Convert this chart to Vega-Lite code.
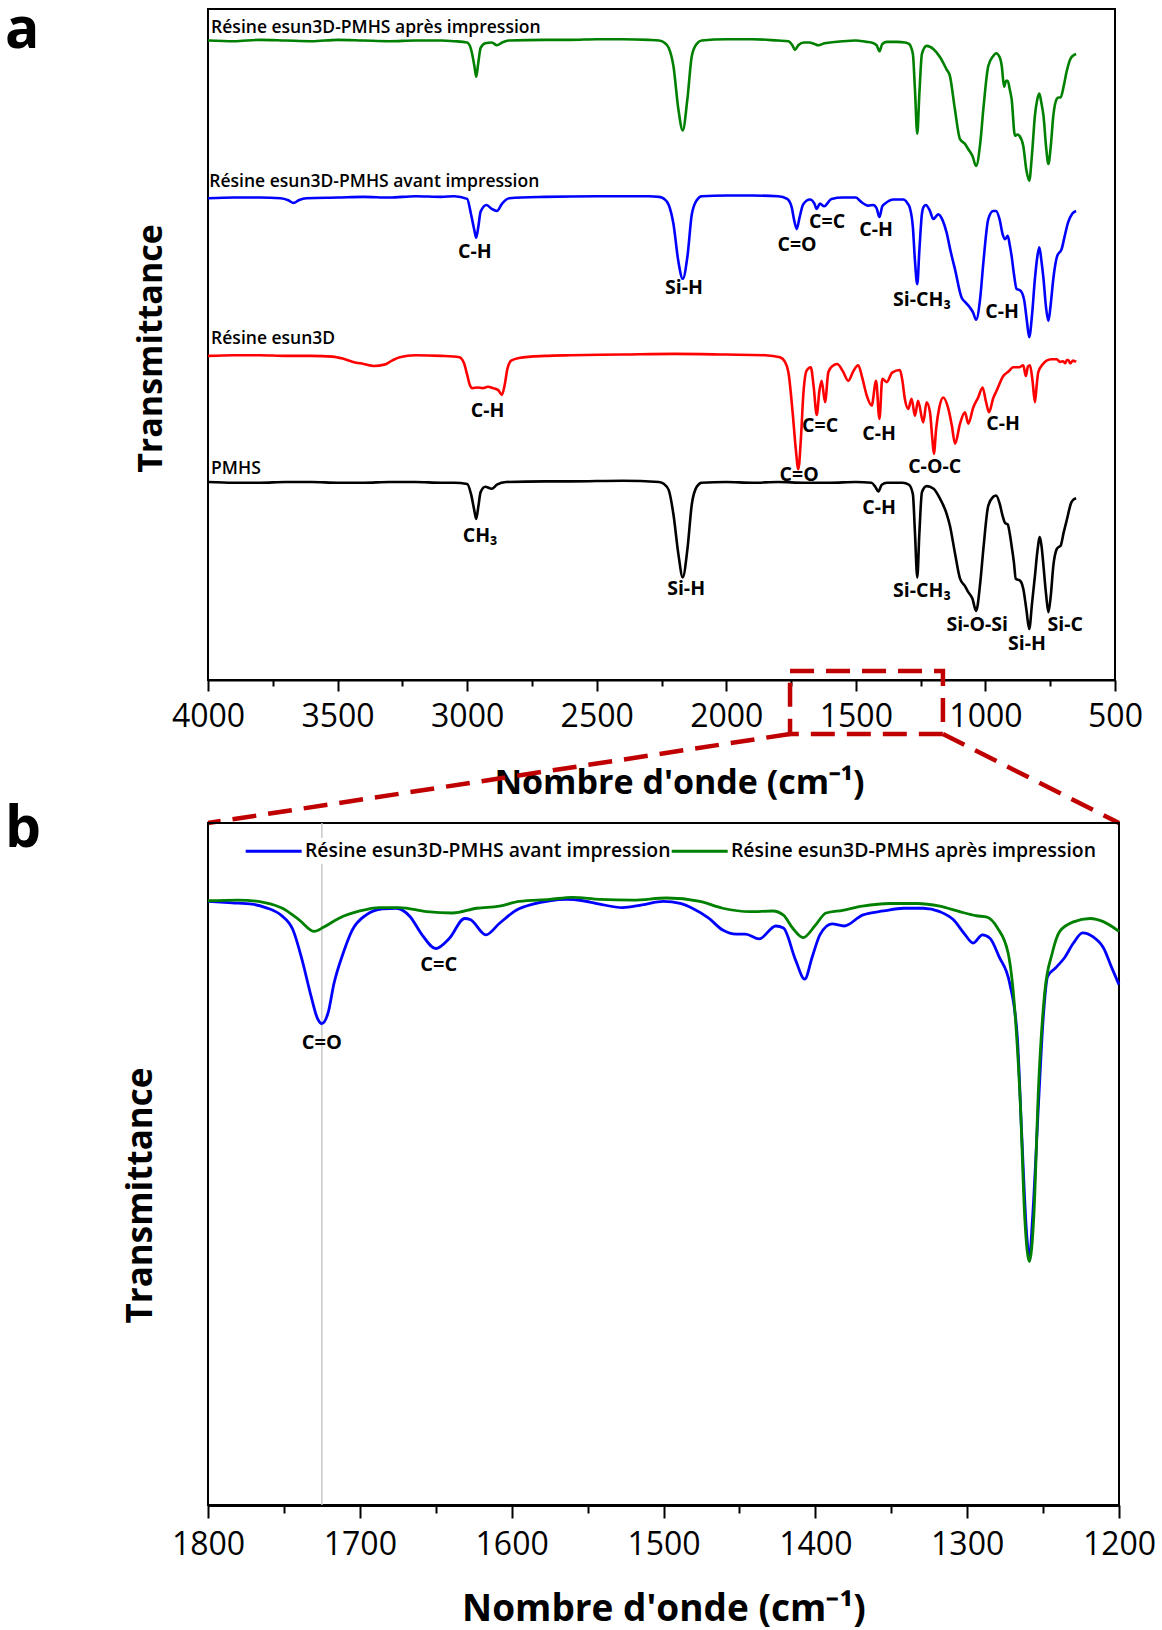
{
"$schema": "https://vega.github.io/schema/vega-lite/v6.json",
"background": "white",
"padding": {"left": 3, "top": 0, "right": 0, "bottom": 0},
"bounds": "flush",
"spacing": 143,
"config": {"view": {"stroke": "black", "strokeWidth": 2}, "font": "Open Sans"},
"resolve": {"scale": {"x": "independent", "y": "independent", "color": "independent"}, "axis": {"x": "independent", "y": "independent"}, "legend": {"color": "independent"}},
"datasets": {
"a_spec": [
{"serie":"apres","wn":4000,"t":95.3},{"serie":"apres","wn":3900,"t":95.2},{"serie":"apres","wn":3800,"t":95.4},{"serie":"apres","wn":3700,"t":95.3},{"serie":"apres","wn":3600,"t":95.2},{"serie":"apres","wn":3500,"t":95.4},{"serie":"apres","wn":3400,"t":95.3},{"serie":"apres","wn":3300,"t":95.2},{"serie":"apres","wn":3200,"t":95.3},{"serie":"apres","wn":3100,"t":95.3},{"serie":"apres","wn":3050,"t":95.2},{"serie":"apres","wn":3000,"t":95.0},{"serie":"apres","wn":2985,"t":94.0},{"serie":"apres","wn":2972,"t":91.5},{"serie":"apres","wn":2965,"t":89.9},{"serie":"apres","wn":2957,"t":92.0},{"serie":"apres","wn":2948,"t":94.2},{"serie":"apres","wn":2930,"t":94.9},{"serie":"apres","wn":2905,"t":95.0},{"serie":"apres","wn":2885,"t":94.6},{"serie":"apres","wn":2865,"t":95.0},{"serie":"apres","wn":2840,"t":95.3},{"serie":"apres","wn":2700,"t":95.4},{"serie":"apres","wn":2600,"t":95.4},{"serie":"apres","wn":2500,"t":95.5},{"serie":"apres","wn":2400,"t":95.5},{"serie":"apres","wn":2300,"t":95.4},{"serie":"apres","wn":2260,"t":95.3},{"serie":"apres","wn":2240,"t":95.0},{"serie":"apres","wn":2222,"t":94.2},{"serie":"apres","wn":2204,"t":91.5},{"serie":"apres","wn":2185,"t":85.1},{"serie":"apres","wn":2168,"t":81.9},{"serie":"apres","wn":2150,"t":86.6},{"serie":"apres","wn":2133,"t":93.0},{"serie":"apres","wn":2114,"t":94.8},{"serie":"apres","wn":2095,"t":95.3},{"serie":"apres","wn":2000,"t":95.5},{"serie":"apres","wn":1900,"t":95.5},{"serie":"apres","wn":1800,"t":95.3},{"serie":"apres","wn":1760,"t":95.2},{"serie":"apres","wn":1745,"t":94.6},{"serie":"apres","wn":1735,"t":93.9},{"serie":"apres","wn":1722,"t":94.6},{"serie":"apres","wn":1700,"t":95.0},{"serie":"apres","wn":1680,"t":95.0},{"serie":"apres","wn":1660,"t":94.8},{"serie":"apres","wn":1645,"t":94.6},{"serie":"apres","wn":1620,"t":94.9},{"serie":"apres","wn":1600,"t":95.0},{"serie":"apres","wn":1550,"t":95.2},{"serie":"apres","wn":1500,"t":95.3},{"serie":"apres","wn":1460,"t":95.1},{"serie":"apres","wn":1440,"t":95.0},{"serie":"apres","wn":1420,"t":94.6},{"serie":"apres","wn":1409,"t":93.7},{"serie":"apres","wn":1398,"t":94.8},{"serie":"apres","wn":1380,"t":95.1},{"serie":"apres","wn":1340,"t":95.1},{"serie":"apres","wn":1310,"t":95.0},{"serie":"apres","wn":1295,"t":94.8},{"serie":"apres","wn":1280,"t":93.3},{"serie":"apres","wn":1272,"t":88.0},{"serie":"apres","wn":1263,"t":81.4},{"serie":"apres","wn":1255,"t":87.3},{"serie":"apres","wn":1245,"t":93.3},{"serie":"apres","wn":1227,"t":94.5},{"serie":"apres","wn":1200,"t":94.0},{"serie":"apres","wn":1175,"t":92.8},{"serie":"apres","wn":1150,"t":91.0},{"serie":"apres","wn":1137,"t":90.0},{"serie":"apres","wn":1118,"t":85.1},{"serie":"apres","wn":1098,"t":80.6},{"serie":"apres","wn":1079,"t":79.9},{"serie":"apres","wn":1066,"t":79.1},{"serie":"apres","wn":1050,"t":78.1},{"serie":"apres","wn":1036,"t":76.6},{"serie":"apres","wn":1020,"t":80.0},{"serie":"apres","wn":1008,"t":85.1},{"serie":"apres","wn":989,"t":91.5},{"serie":"apres","wn":970,"t":93.0},{"serie":"apres","wn":959,"t":93.4},{"serie":"apres","wn":945,"t":92.8},{"serie":"apres","wn":937,"t":91.5},{"serie":"apres","wn":928,"t":88.4},{"serie":"apres","wn":920,"t":89.3},{"serie":"apres","wn":914,"t":89.3},{"serie":"apres","wn":906,"t":88.0},{"serie":"apres","wn":899,"t":86.6},{"serie":"apres","wn":886,"t":81.1},{"serie":"apres","wn":876,"t":81.3},{"serie":"apres","wn":869,"t":81.1},{"serie":"apres","wn":854,"t":79.6},{"serie":"apres","wn":842,"t":76.0},{"serie":"apres","wn":831,"t":74.4},{"serie":"apres","wn":820,"t":78.5},{"serie":"apres","wn":809,"t":84.1},{"serie":"apres","wn":800,"t":86.5},{"serie":"apres","wn":792,"t":87.4},{"serie":"apres","wn":784,"t":86.0},{"serie":"apres","wn":776,"t":84.1},{"serie":"apres","wn":766,"t":79.5},{"serie":"apres","wn":757,"t":76.9},{"serie":"apres","wn":748,"t":79.5},{"serie":"apres","wn":738,"t":84.1},{"serie":"apres","wn":725,"t":86.6},{"serie":"apres","wn":718,"t":86.8},{"serie":"apres","wn":710,"t":86.8},{"serie":"apres","wn":698,"t":88.5},{"serie":"apres","wn":687,"t":90.6},{"serie":"apres","wn":670,"t":92.7},{"serie":"apres","wn":660,"t":93.1},{"serie":"apres","wn":650,"t":93.3},
{"serie":"avant","wn":4000,"t":71.8},{"serie":"avant","wn":3900,"t":71.9},{"serie":"avant","wn":3800,"t":71.9},{"serie":"avant","wn":3720,"t":71.8},{"serie":"avant","wn":3690,"t":71.5},{"serie":"avant","wn":3670,"t":71.1},{"serie":"avant","wn":3650,"t":71.5},{"serie":"avant","wn":3620,"t":71.8},{"serie":"avant","wn":3500,"t":71.9},{"serie":"avant","wn":3400,"t":72.0},{"serie":"avant","wn":3300,"t":71.9},{"serie":"avant","wn":3200,"t":72.1},{"serie":"avant","wn":3100,"t":72.0},{"serie":"avant","wn":3050,"t":72.1},{"serie":"avant","wn":3000,"t":71.7},{"serie":"avant","wn":2985,"t":69.4},{"serie":"avant","wn":2972,"t":67.0},{"serie":"avant","wn":2965,"t":65.9},{"serie":"avant","wn":2957,"t":67.5},{"serie":"avant","wn":2948,"t":69.8},{"serie":"avant","wn":2925,"t":70.8},{"serie":"avant","wn":2905,"t":70.2},{"serie":"avant","wn":2885,"t":69.9},{"serie":"avant","wn":2865,"t":71.0},{"serie":"avant","wn":2837,"t":71.8},{"serie":"avant","wn":2700,"t":72.0},{"serie":"avant","wn":2500,"t":72.1},{"serie":"avant","wn":2300,"t":72.1},{"serie":"avant","wn":2260,"t":72.0},{"serie":"avant","wn":2240,"t":71.7},{"serie":"avant","wn":2222,"t":70.8},{"serie":"avant","wn":2204,"t":68.0},{"serie":"avant","wn":2185,"t":62.4},{"serie":"avant","wn":2168,"t":59.8},{"serie":"avant","wn":2150,"t":63.1},{"serie":"avant","wn":2133,"t":69.4},{"serie":"avant","wn":2114,"t":71.5},{"serie":"avant","wn":2095,"t":72.1},{"serie":"avant","wn":2000,"t":72.2},{"serie":"avant","wn":1900,"t":72.2},{"serie":"avant","wn":1800,"t":72.1},{"serie":"avant","wn":1765,"t":71.7},{"serie":"avant","wn":1748,"t":70.5},{"serie":"avant","wn":1738,"t":68.5},{"serie":"avant","wn":1728,"t":67.2},{"serie":"avant","wn":1718,"t":68.8},{"serie":"avant","wn":1703,"t":70.9},{"serie":"avant","wn":1677,"t":71.6},{"serie":"avant","wn":1660,"t":71.0},{"serie":"avant","wn":1651,"t":70.2},{"serie":"avant","wn":1639,"t":71.0},{"serie":"avant","wn":1622,"t":70.6},{"serie":"avant","wn":1594,"t":71.7},{"serie":"avant","wn":1550,"t":71.9},{"serie":"avant","wn":1500,"t":71.9},{"serie":"avant","wn":1484,"t":71.4},{"serie":"avant","wn":1452,"t":70.7},{"serie":"avant","wn":1433,"t":70.8},{"serie":"avant","wn":1420,"t":70.3},{"serie":"avant","wn":1409,"t":69.0},{"serie":"avant","wn":1398,"t":70.6},{"serie":"avant","wn":1387,"t":71.0},{"serie":"avant","wn":1355,"t":71.6},{"serie":"avant","wn":1317,"t":71.6},{"serie":"avant","wn":1300,"t":71.0},{"serie":"avant","wn":1292,"t":70.4},{"serie":"avant","wn":1280,"t":67.5},{"serie":"avant","wn":1272,"t":62.5},{"serie":"avant","wn":1263,"t":59.0},{"serie":"avant","wn":1255,"t":64.0},{"serie":"avant","wn":1245,"t":69.5},{"serie":"avant","wn":1240,"t":70.4},{"serie":"avant","wn":1230,"t":70.8},{"serie":"avant","wn":1215,"t":70.0},{"serie":"avant","wn":1201,"t":68.7},{"serie":"avant","wn":1182,"t":69.4},{"serie":"avant","wn":1165,"t":68.5},{"serie":"avant","wn":1150,"t":66.7},{"serie":"avant","wn":1135,"t":64.0},{"serie":"avant","wn":1118,"t":61.3},{"serie":"avant","wn":1092,"t":57.0},{"serie":"avant","wn":1075,"t":56.2},{"serie":"avant","wn":1060,"t":55.5},{"serie":"avant","wn":1048,"t":54.8},{"serie":"avant","wn":1036,"t":53.7},{"serie":"avant","wn":1020,"t":57.0},{"serie":"avant","wn":1008,"t":62.2},{"serie":"avant","wn":989,"t":68.7},{"serie":"avant","wn":970,"t":69.9},{"serie":"avant","wn":959,"t":69.9},{"serie":"avant","wn":945,"t":68.6},{"serie":"avant","wn":934,"t":66.5},{"serie":"avant","wn":924,"t":65.7},{"serie":"avant","wn":914,"t":66.2},{"serie":"avant","wn":906,"t":64.8},{"serie":"avant","wn":899,"t":63.2},{"serie":"avant","wn":890,"t":60.5},{"serie":"avant","wn":880,"t":58.3},{"serie":"avant","wn":864,"t":58.0},{"serie":"avant","wn":850,"t":56.5},{"serie":"avant","wn":840,"t":53.5},{"serie":"avant","wn":831,"t":51.1},{"serie":"avant","wn":820,"t":54.5},{"serie":"avant","wn":809,"t":59.8},{"serie":"avant","wn":800,"t":63.0},{"serie":"avant","wn":792,"t":64.5},{"serie":"avant","wn":784,"t":62.5},{"serie":"avant","wn":776,"t":59.8},{"serie":"avant","wn":766,"t":55.5},{"serie":"avant","wn":757,"t":53.5},{"serie":"avant","wn":748,"t":56.0},{"serie":"avant","wn":738,"t":59.8},{"serie":"avant","wn":723,"t":63.2},{"serie":"avant","wn":706,"t":64.2},{"serie":"avant","wn":695,"t":66.0},{"serie":"avant","wn":681,"t":68.2},{"serie":"avant","wn":665,"t":69.5},{"serie":"avant","wn":650,"t":69.9},
{"serie":"esun","wn":4000,"t":48.3},{"serie":"esun","wn":3900,"t":48.4},{"serie":"esun","wn":3800,"t":48.4},{"serie":"esun","wn":3700,"t":48.3},{"serie":"esun","wn":3600,"t":48.3},{"serie":"esun","wn":3520,"t":48.2},{"serie":"esun","wn":3480,"t":47.9},{"serie":"esun","wn":3440,"t":47.4},{"serie":"esun","wn":3400,"t":47.1},{"serie":"esun","wn":3360,"t":46.8},{"serie":"esun","wn":3320,"t":47.0},{"serie":"esun","wn":3290,"t":47.6},{"serie":"esun","wn":3260,"t":48.1},{"serie":"esun","wn":3200,"t":48.4},{"serie":"esun","wn":3100,"t":48.3},{"serie":"esun","wn":3030,"t":48.1},{"serie":"esun","wn":3012,"t":47.2},{"serie":"esun","wn":3000,"t":45.5},{"serie":"esun","wn":2990,"t":44.0},{"serie":"esun","wn":2980,"t":43.5},{"serie":"esun","wn":2960,"t":43.6},{"serie":"esun","wn":2940,"t":43.5},{"serie":"esun","wn":2920,"t":43.7},{"serie":"esun","wn":2900,"t":43.5},{"serie":"esun","wn":2880,"t":43.2},{"serie":"esun","wn":2866,"t":42.5},{"serie":"esun","wn":2855,"t":44.0},{"serie":"esun","wn":2845,"t":46.3},{"serie":"esun","wn":2830,"t":47.6},{"serie":"esun","wn":2800,"t":48.0},{"serie":"esun","wn":2700,"t":48.3},{"serie":"esun","wn":2600,"t":48.4},{"serie":"esun","wn":2400,"t":48.5},{"serie":"esun","wn":2200,"t":48.6},{"serie":"esun","wn":2000,"t":48.5},{"serie":"esun","wn":1850,"t":48.4},{"serie":"esun","wn":1793,"t":48.1},{"serie":"esun","wn":1775,"t":47.5},{"serie":"esun","wn":1760,"t":45.8},{"serie":"esun","wn":1744,"t":39.9},{"serie":"esun","wn":1732,"t":34.5},{"serie":"esun","wn":1722,"t":31.4},{"serie":"esun","wn":1712,"t":36.0},{"serie":"esun","wn":1703,"t":42.4},{"serie":"esun","wn":1690,"t":46.1},{"serie":"esun","wn":1674,"t":46.6},{"serie":"esun","wn":1663,"t":43.8},{"serie":"esun","wn":1651,"t":39.5},{"serie":"esun","wn":1641,"t":43.0},{"serie":"esun","wn":1632,"t":44.6},{"serie":"esun","wn":1619,"t":41.4},{"serie":"esun","wn":1606,"t":45.9},{"serie":"esun","wn":1590,"t":46.8},{"serie":"esun","wn":1572,"t":47.1},{"serie":"esun","wn":1550,"t":46.0},{"serie":"esun","wn":1529,"t":44.6},{"serie":"esun","wn":1510,"t":46.0},{"serie":"esun","wn":1491,"t":46.9},{"serie":"esun","wn":1475,"t":45.0},{"serie":"esun","wn":1458,"t":42.4},{"serie":"esun","wn":1439,"t":40.9},{"serie":"esun","wn":1422,"t":44.6},{"serie":"esun","wn":1409,"t":38.9},{"serie":"esun","wn":1398,"t":44.9},{"serie":"esun","wn":1381,"t":44.4},{"serie":"esun","wn":1360,"t":45.8},{"serie":"esun","wn":1330,"t":46.2},{"serie":"esun","wn":1320,"t":44.5},{"serie":"esun","wn":1311,"t":41.9},{"serie":"esun","wn":1298,"t":40.4},{"serie":"esun","wn":1285,"t":41.9},{"serie":"esun","wn":1272,"t":39.4},{"serie":"esun","wn":1260,"t":41.6},{"serie":"esun","wn":1240,"t":38.4},{"serie":"esun","wn":1227,"t":41.4},{"serie":"esun","wn":1214,"t":39.9},{"serie":"esun","wn":1205,"t":36.0},{"serie":"esun","wn":1199,"t":33.7},{"serie":"esun","wn":1190,"t":37.5},{"serie":"esun","wn":1178,"t":40.6},{"serie":"esun","wn":1163,"t":42.1},{"serie":"esun","wn":1143,"t":40.4},{"serie":"esun","wn":1130,"t":38.0},{"serie":"esun","wn":1117,"t":35.2},{"serie":"esun","wn":1098,"t":38.2},{"serie":"esun","wn":1079,"t":39.9},{"serie":"esun","wn":1066,"t":38.2},{"serie":"esun","wn":1047,"t":40.6},{"serie":"esun","wn":1028,"t":42.1},{"serie":"esun","wn":1011,"t":43.6},{"serie":"esun","wn":998,"t":41.5},{"serie":"esun","wn":986,"t":39.9},{"serie":"esun","wn":970,"t":42.0},{"serie":"esun","wn":957,"t":43.1},{"serie":"esun","wn":931,"t":45.3},{"serie":"esun","wn":910,"t":46.0},{"serie":"esun","wn":893,"t":46.6},{"serie":"esun","wn":870,"t":46.6},{"serie":"esun","wn":854,"t":46.9},{"serie":"esun","wn":844,"t":45.3},{"serie":"esun","wn":836,"t":46.7},{"serie":"esun","wn":828,"t":46.9},{"serie":"esun","wn":818,"t":44.5},{"serie":"esun","wn":809,"t":41.4},{"serie":"esun","wn":802,"t":44.0},{"serie":"esun","wn":796,"t":45.9},{"serie":"esun","wn":780,"t":47.0},{"serie":"esun","wn":764,"t":47.6},{"serie":"esun","wn":745,"t":47.8},{"serie":"esun","wn":725,"t":47.8},{"serie":"esun","wn":712,"t":47.4},{"serie":"esun","wn":700,"t":47.5},{"serie":"esun","wn":692,"t":47.2},{"serie":"esun","wn":686,"t":47.7},{"serie":"esun","wn":680,"t":47.7},{"serie":"esun","wn":673,"t":47.2},{"serie":"esun","wn":662,"t":47.6},{"serie":"esun","wn":650,"t":47.4},
{"serie":"pmhs","wn":4000,"t":29.5},{"serie":"pmhs","wn":3900,"t":29.4},{"serie":"pmhs","wn":3800,"t":29.4},{"serie":"pmhs","wn":3700,"t":29.5},{"serie":"pmhs","wn":3600,"t":29.5},{"serie":"pmhs","wn":3500,"t":29.4},{"serie":"pmhs","wn":3400,"t":29.4},{"serie":"pmhs","wn":3300,"t":29.5},{"serie":"pmhs","wn":3200,"t":29.5},{"serie":"pmhs","wn":3100,"t":29.4},{"serie":"pmhs","wn":3050,"t":29.4},{"serie":"pmhs","wn":3000,"t":29.2},{"serie":"pmhs","wn":2985,"t":27.7},{"serie":"pmhs","wn":2972,"t":25.2},{"serie":"pmhs","wn":2965,"t":24.0},{"serie":"pmhs","wn":2957,"t":25.8},{"serie":"pmhs","wn":2948,"t":28.0},{"serie":"pmhs","wn":2930,"t":28.8},{"serie":"pmhs","wn":2905,"t":28.5},{"serie":"pmhs","wn":2885,"t":29.1},{"serie":"pmhs","wn":2850,"t":29.5},{"serie":"pmhs","wn":2700,"t":29.6},{"serie":"pmhs","wn":2600,"t":29.6},{"serie":"pmhs","wn":2400,"t":29.7},{"serie":"pmhs","wn":2260,"t":29.5},{"serie":"pmhs","wn":2240,"t":29.2},{"serie":"pmhs","wn":2222,"t":28.3},{"serie":"pmhs","wn":2204,"t":24.7},{"serie":"pmhs","wn":2185,"t":18.8},{"serie":"pmhs","wn":2168,"t":15.3},{"serie":"pmhs","wn":2150,"t":19.5},{"serie":"pmhs","wn":2133,"t":26.2},{"serie":"pmhs","wn":2114,"t":28.8},{"serie":"pmhs","wn":2095,"t":29.4},{"serie":"pmhs","wn":2000,"t":29.5},{"serie":"pmhs","wn":1900,"t":29.4},{"serie":"pmhs","wn":1800,"t":29.5},{"serie":"pmhs","wn":1700,"t":29.4},{"serie":"pmhs","wn":1600,"t":29.4},{"serie":"pmhs","wn":1500,"t":29.5},{"serie":"pmhs","wn":1440,"t":29.4},{"serie":"pmhs","wn":1425,"t":28.8},{"serie":"pmhs","wn":1413,"t":28.1},{"serie":"pmhs","wn":1400,"t":29.1},{"serie":"pmhs","wn":1380,"t":29.4},{"serie":"pmhs","wn":1320,"t":29.4},{"serie":"pmhs","wn":1295,"t":29.1},{"serie":"pmhs","wn":1280,"t":27.7},{"serie":"pmhs","wn":1272,"t":22.0},{"serie":"pmhs","wn":1263,"t":15.3},{"serie":"pmhs","wn":1255,"t":21.8},{"serie":"pmhs","wn":1245,"t":28.0},{"serie":"pmhs","wn":1227,"t":28.9},{"serie":"pmhs","wn":1200,"t":28.5},{"serie":"pmhs","wn":1175,"t":27.0},{"serie":"pmhs","wn":1150,"t":24.8},{"serie":"pmhs","wn":1137,"t":23.0},{"serie":"pmhs","wn":1118,"t":19.0},{"serie":"pmhs","wn":1098,"t":15.1},{"serie":"pmhs","wn":1079,"t":14.0},{"serie":"pmhs","wn":1066,"t":13.1},{"serie":"pmhs","wn":1050,"t":12.1},{"serie":"pmhs","wn":1036,"t":10.3},{"serie":"pmhs","wn":1020,"t":14.5},{"serie":"pmhs","wn":1008,"t":19.5},{"serie":"pmhs","wn":989,"t":26.0},{"serie":"pmhs","wn":970,"t":27.3},{"serie":"pmhs","wn":959,"t":27.5},{"serie":"pmhs","wn":945,"t":26.3},{"serie":"pmhs","wn":934,"t":24.5},{"serie":"pmhs","wn":924,"t":23.4},{"serie":"pmhs","wn":914,"t":23.2},{"serie":"pmhs","wn":906,"t":21.8},{"serie":"pmhs","wn":899,"t":20.0},{"serie":"pmhs","wn":890,"t":17.5},{"serie":"pmhs","wn":883,"t":15.1},{"serie":"pmhs","wn":866,"t":14.8},{"serie":"pmhs","wn":854,"t":13.6},{"serie":"pmhs","wn":842,"t":10.5},{"serie":"pmhs","wn":831,"t":7.6},{"serie":"pmhs","wn":820,"t":11.5},{"serie":"pmhs","wn":809,"t":15.5},{"serie":"pmhs","wn":800,"t":19.0},{"serie":"pmhs","wn":790,"t":21.3},{"serie":"pmhs","wn":783,"t":19.8},{"serie":"pmhs","wn":776,"t":17.0},{"serie":"pmhs","wn":766,"t":12.8},{"serie":"pmhs","wn":757,"t":10.1},{"serie":"pmhs","wn":748,"t":12.5},{"serie":"pmhs","wn":738,"t":17.0},{"serie":"pmhs","wn":725,"t":19.5},{"serie":"pmhs","wn":718,"t":19.8},{"serie":"pmhs","wn":710,"t":20.0},{"serie":"pmhs","wn":698,"t":22.0},{"serie":"pmhs","wn":687,"t":23.7},{"serie":"pmhs","wn":668,"t":26.5},{"serie":"pmhs","wn":660,"t":26.9},{"serie":"pmhs","wn":650,"t":27.1}
],
"a_names": [
{"wn":3988,"t":97.2,"txt":"Résine esun3D-PMHS après impression"},
{"wn":3995,"t":74.2,"txt":"Résine esun3D-PMHS avant impression"},
{"wn":3988,"t":50.8,"txt":"Résine esun3D"},
{"wn":3988,"t":31.4,"txt":"PMHS"}
],
"a_peaks": [
{"wn":2970,"t":63.8,"txt":"C-H"},{"wn":2163,"t":58.4,"txt":"Si-H"},{"wn":1727,"t":64.8,"txt":"C=O"},{"wn":1611,"t":68.3,"txt":"C=C"},{"wn":1422,"t":67.1,"txt":"C-H"},{"wn":1245,"t":56.7,"txt":"Si-CH₃"},{"wn":936,"t":54.9,"txt":"C-H"},
{"wn":2921,"t":40.1,"txt":"C-H"},{"wn":1638,"t":37.8,"txt":"C=C"},{"wn":1410,"t":36.7,"txt":"C-H"},{"wn":1719,"t":30.6,"txt":"C=O"},{"wn":1196,"t":31.8,"txt":"C-O-C"},{"wn":932,"t":38.1,"txt":"C-H"},
{"wn":2950,"t":21.5,"txt":"CH₃"},{"wn":2155,"t":13.5,"txt":"Si-H"},{"wn":1410,"t":25.6,"txt":"C-H"},{"wn":1245,"t":13.2,"txt":"Si-CH₃"},{"wn":1032,"t":8.2,"txt":"Si-O-Si"},{"wn":840,"t":5.3,"txt":"Si-H"},{"wn":692,"t":8.2,"txt":"Si-C"}
],
"a_letter": [{"wn":4783,"t":94.2,"txt":"a"}],
"zoom": [
{"seg":"box","k":0,"wn":1754,"t":1.34},{"seg":"box","k":1,"wn":1164,"t":1.34},{"seg":"box","k":2,"wn":1164,"t":-8.05},{"seg":"box","k":3,"wn":1754,"t":-8.05},{"seg":"box","k":4,"wn":1754,"t":1.34},
{"seg":"gauche","k":0,"wn":1754,"t":-8.05},{"seg":"gauche","k":1,"wn":4000,"t":-21.31},
{"seg":"droite","k":0,"wn":1164,"t":-8.05},{"seg":"droite","k":1,"wn":484.5,"t":-21.31}
],
"b_spec": [
{"spectre":"Résine esun3D-PMHS avant impression","wn":1800,"t":88.5},{"spectre":"Résine esun3D-PMHS avant impression","wn":1784,"t":88.3},{"spectre":"Résine esun3D-PMHS avant impression","wn":1771,"t":88.1},{"spectre":"Résine esun3D-PMHS avant impression","wn":1762,"t":87.6},{"spectre":"Résine esun3D-PMHS avant impression","wn":1752,"t":86.5},{"spectre":"Résine esun3D-PMHS avant impression","wn":1744,"t":84.3},{"spectre":"Résine esun3D-PMHS avant impression","wn":1738,"t":79.9},{"spectre":"Résine esun3D-PMHS avant impression","wn":1732,"t":74.5},{"spectre":"Résine esun3D-PMHS avant impression","wn":1728,"t":71.4},{"spectre":"Résine esun3D-PMHS avant impression","wn":1725,"t":70.6},{"spectre":"Résine esun3D-PMHS avant impression","wn":1721,"t":72.1},{"spectre":"Résine esun3D-PMHS avant impression","wn":1717,"t":76.5},{"spectre":"Résine esun3D-PMHS avant impression","wn":1711,"t":80.9},{"spectre":"Résine esun3D-PMHS avant impression","wn":1705,"t":84.3},{"spectre":"Résine esun3D-PMHS avant impression","wn":1696,"t":86.5},{"spectre":"Résine esun3D-PMHS avant impression","wn":1685,"t":87.4},{"spectre":"Résine esun3D-PMHS avant impression","wn":1676,"t":87.5},{"spectre":"Résine esun3D-PMHS avant impression","wn":1667,"t":86.3},{"spectre":"Résine esun3D-PMHS avant impression","wn":1659,"t":83.6},{"spectre":"Résine esun3D-PMHS avant impression","wn":1650,"t":81.6},{"spectre":"Résine esun3D-PMHS avant impression","wn":1641,"t":83.1},{"spectre":"Résine esun3D-PMHS avant impression","wn":1631,"t":86.0},{"spectre":"Résine esun3D-PMHS avant impression","wn":1627,"t":85.8},{"spectre":"Résine esun3D-PMHS avant impression","wn":1617,"t":83.6},{"spectre":"Résine esun3D-PMHS avant impression","wn":1608,"t":85.3},{"spectre":"Résine esun3D-PMHS avant impression","wn":1597,"t":87.2},{"spectre":"Résine esun3D-PMHS avant impression","wn":1586,"t":88.1},{"spectre":"Résine esun3D-PMHS avant impression","wn":1575,"t":88.6},{"spectre":"Résine esun3D-PMHS avant impression","wn":1564,"t":88.8},{"spectre":"Résine esun3D-PMHS avant impression","wn":1553,"t":88.6},{"spectre":"Résine esun3D-PMHS avant impression","wn":1542,"t":88.1},{"spectre":"Résine esun3D-PMHS avant impression","wn":1527,"t":87.6},{"spectre":"Résine esun3D-PMHS avant impression","wn":1514,"t":88.0},{"spectre":"Résine esun3D-PMHS avant impression","wn":1500,"t":88.5},{"spectre":"Résine esun3D-PMHS avant impression","wn":1489,"t":88.2},{"spectre":"Résine esun3D-PMHS avant impression","wn":1481,"t":87.5},{"spectre":"Résine esun3D-PMHS avant impression","wn":1470,"t":86.0},{"spectre":"Résine esun3D-PMHS avant impression","wn":1461,"t":84.3},{"spectre":"Résine esun3D-PMHS avant impression","wn":1452,"t":83.7},{"spectre":"Résine esun3D-PMHS avant impression","wn":1446,"t":83.7},{"spectre":"Résine esun3D-PMHS avant impression","wn":1437,"t":83.0},{"spectre":"Résine esun3D-PMHS avant impression","wn":1426,"t":84.9},{"spectre":"Résine esun3D-PMHS avant impression","wn":1421,"t":84.6},{"spectre":"Résine esun3D-PMHS avant impression","wn":1413,"t":79.9},{"spectre":"Résine esun3D-PMHS avant impression","wn":1407,"t":77.1},{"spectre":"Résine esun3D-PMHS avant impression","wn":1402,"t":80.4},{"spectre":"Résine esun3D-PMHS avant impression","wn":1397,"t":83.6},{"spectre":"Résine esun3D-PMHS avant impression","wn":1389,"t":85.2},{"spectre":"Résine esun3D-PMHS avant impression","wn":1381,"t":84.9},{"spectre":"Résine esun3D-PMHS avant impression","wn":1369,"t":86.5},{"spectre":"Résine esun3D-PMHS avant impression","wn":1355,"t":87.1},{"spectre":"Résine esun3D-PMHS avant impression","wn":1342,"t":87.5},{"spectre":"Résine esun3D-PMHS avant impression","wn":1329,"t":87.5},{"spectre":"Résine esun3D-PMHS avant impression","wn":1318,"t":87.0},{"spectre":"Résine esun3D-PMHS avant impression","wn":1309,"t":85.8},{"spectre":"Résine esun3D-PMHS avant impression","wn":1302,"t":83.8},{"spectre":"Résine esun3D-PMHS avant impression","wn":1296,"t":82.4},{"spectre":"Résine esun3D-PMHS avant impression","wn":1290,"t":83.6},{"spectre":"Résine esun3D-PMHS avant impression","wn":1285,"t":83.1},{"spectre":"Résine esun3D-PMHS avant impression","wn":1279,"t":80.4},{"spectre":"Résine esun3D-PMHS avant impression","wn":1272,"t":76.5},{"spectre":"Résine esun3D-PMHS avant impression","wn":1267,"t":68.7},{"spectre":"Résine esun3D-PMHS avant impression","wn":1264,"t":54.0},{"spectre":"Résine esun3D-PMHS avant impression","wn":1261,"t":40.3},{"spectre":"Résine esun3D-PMHS avant impression","wn":1259,"t":36.2},{"spectre":"Résine esun3D-PMHS avant impression","wn":1257,"t":41.8},{"spectre":"Résine esun3D-PMHS avant impression","wn":1253,"t":58.9},{"spectre":"Résine esun3D-PMHS avant impression","wn":1250,"t":71.1},{"spectre":"Résine esun3D-PMHS avant impression","wn":1247,"t":77.5},{"spectre":"Résine esun3D-PMHS avant impression","wn":1242,"t":78.7},{"spectre":"Résine esun3D-PMHS avant impression","wn":1236,"t":80.2},{"spectre":"Résine esun3D-PMHS avant impression","wn":1230,"t":82.4},{"spectre":"Résine esun3D-PMHS avant impression","wn":1224,"t":83.9},{"spectre":"Résine esun3D-PMHS avant impression","wn":1217,"t":83.3},{"spectre":"Résine esun3D-PMHS avant impression","wn":1210,"t":81.6},{"spectre":"Résine esun3D-PMHS avant impression","wn":1205,"t":78.9},{"spectre":"Résine esun3D-PMHS avant impression","wn":1200,"t":76.3},
{"spectre":"Résine esun3D-PMHS après impression","wn":1800,"t":88.6},{"spectre":"Résine esun3D-PMHS après impression","wn":1780,"t":88.7},{"spectre":"Résine esun3D-PMHS après impression","wn":1762,"t":88.3},{"spectre":"Résine esun3D-PMHS après impression","wn":1751,"t":87.5},{"spectre":"Résine esun3D-PMHS après impression","wn":1740,"t":85.8},{"spectre":"Résine esun3D-PMHS après impression","wn":1730,"t":84.1},{"spectre":"Résine esun3D-PMHS après impression","wn":1724,"t":84.7},{"spectre":"Résine esun3D-PMHS après impression","wn":1714,"t":86.0},{"spectre":"Résine esun3D-PMHS après impression","wn":1700,"t":87.1},{"spectre":"Résine esun3D-PMHS après impression","wn":1687,"t":87.6},{"spectre":"Résine esun3D-PMHS après impression","wn":1674,"t":87.6},{"spectre":"Résine esun3D-PMHS après impression","wn":1656,"t":87.0},{"spectre":"Résine esun3D-PMHS après impression","wn":1639,"t":86.8},{"spectre":"Résine esun3D-PMHS après impression","wn":1623,"t":87.5},{"spectre":"Résine esun3D-PMHS après impression","wn":1608,"t":87.8},{"spectre":"Résine esun3D-PMHS après impression","wn":1595,"t":88.5},{"spectre":"Résine esun3D-PMHS après impression","wn":1575,"t":88.8},{"spectre":"Résine esun3D-PMHS après impression","wn":1560,"t":89.1},{"spectre":"Résine esun3D-PMHS après impression","wn":1542,"t":88.8},{"spectre":"Résine esun3D-PMHS après impression","wn":1520,"t":88.7},{"spectre":"Résine esun3D-PMHS après impression","wn":1498,"t":89.0},{"spectre":"Résine esun3D-PMHS après impression","wn":1476,"t":88.5},{"spectre":"Résine esun3D-PMHS après impression","wn":1461,"t":87.5},{"spectre":"Résine esun3D-PMHS après impression","wn":1443,"t":87.0},{"spectre":"Résine esun3D-PMHS après impression","wn":1428,"t":87.1},{"spectre":"Résine esun3D-PMHS après impression","wn":1421,"t":86.5},{"spectre":"Résine esun3D-PMHS après impression","wn":1415,"t":84.6},{"spectre":"Résine esun3D-PMHS après impression","wn":1408,"t":83.2},{"spectre":"Résine esun3D-PMHS après impression","wn":1400,"t":85.0},{"spectre":"Résine esun3D-PMHS après impression","wn":1393,"t":86.8},{"spectre":"Résine esun3D-PMHS après impression","wn":1382,"t":87.2},{"spectre":"Résine esun3D-PMHS après impression","wn":1369,"t":87.8},{"spectre":"Résine esun3D-PMHS après impression","wn":1351,"t":88.2},{"spectre":"Résine esun3D-PMHS après impression","wn":1333,"t":88.2},{"spectre":"Résine esun3D-PMHS après impression","wn":1318,"t":87.8},{"spectre":"Résine esun3D-PMHS après impression","wn":1305,"t":87.0},{"spectre":"Résine esun3D-PMHS après impression","wn":1294,"t":86.4},{"spectre":"Résine esun3D-PMHS après impression","wn":1287,"t":86.2},{"spectre":"Résine esun3D-PMHS après impression","wn":1280,"t":84.6},{"spectre":"Résine esun3D-PMHS après impression","wn":1273,"t":80.9},{"spectre":"Résine esun3D-PMHS après impression","wn":1269,"t":73.6},{"spectre":"Résine esun3D-PMHS après impression","wn":1265,"t":58.9},{"spectre":"Résine esun3D-PMHS après impression","wn":1262,"t":41.8},{"spectre":"Résine esun3D-PMHS après impression","wn":1259,"t":35.7},{"spectre":"Résine esun3D-PMHS après impression","wn":1256,"t":42.8},{"spectre":"Résine esun3D-PMHS après impression","wn":1253,"t":61.3},{"spectre":"Résine esun3D-PMHS après impression","wn":1249,"t":75.0},{"spectre":"Résine esun3D-PMHS après impression","wn":1244,"t":80.9},{"spectre":"Résine esun3D-PMHS après impression","wn":1239,"t":84.1},{"spectre":"Résine esun3D-PMHS après impression","wn":1230,"t":85.5},{"spectre":"Résine esun3D-PMHS après impression","wn":1219,"t":86.0},{"spectre":"Résine esun3D-PMHS après impression","wn":1210,"t":85.5},{"spectre":"Résine esun3D-PMHS après impression","wn":1200,"t":84.1}
],
"b_ref": [{"wn":1725,"t":0,"t2":100}],
"b_peaks": [{"wn":1725,"t":67.8,"txt":"C=O"},{"wn":1648,"t":79.2,"txt":"C=C"}],
"b_letter": [{"wn":1933.7,"t":96.5,"txt":"b"}]
},
"vconcat": [
{
"width": 907, "height": 671,
"encoding": {
"x": {"field": "wn", "type": "quantitative",
 "scale": {"domain": [500, 4000], "reverse": true, "nice": false, "zero": false},
 "axis": {"title": "Nombre d'onde (cm⁻¹)", "values": [4000,3750,3500,3250,3000,2750,2500,2250,2000,1750,1500,1250,1000,750,500], "format": "d",
  "labelExpr": "datum.value % 500 === 0 ? datum.label : ''",
  "tickSize": {"condition": {"test": "datum.value % 500 === 0", "value": 11}, "value": 6},
  "tickWidth": 2, "tickColor": "black", "domainColor": "black", "domainWidth": 2, "grid": false,
  "labelFont": "Open Sans", "labelFontSize": 32, "labelColor": "black", "labelPadding": 10, "labelFlush": false, "labelOverlap": false,
  "titleFont": "Open Sans", "titleFontSize": 34, "titleFontWeight": "bold", "titleColor": "black", "titleX": 471, "titleY": 113, "titleBaseline": "alphabetic", "titleLimit": 2000}},
"y": {"field": "t", "type": "quantitative",
 "scale": {"domain": [0, 100], "nice": false, "zero": false},
 "axis": {"title": "Transmittance", "labels": false, "ticks": false, "domain": false, "grid": false,
  "titleFont": "Open Sans", "titleFontSize": 34, "titleFontWeight": "bold", "titleColor": "black", "titleAngle": -90, "titleX": -47, "titleY": 339, "titleBaseline": "alphabetic", "titleAlign": "center", "titleLimit": 2000}}
},
"layer": [
{"data": {"name": "a_spec"}, "mark": {"type": "line", "strokeWidth": 2.6, "interpolate": "monotone"},
 "encoding": {"color": {"field": "serie", "type": "nominal", "scale": {"domain": ["apres","avant","esun","pmhs"], "range": ["#008000","#0000FF","#FF0000","#000000"]}, "legend": null}}},
{"data": {"name": "a_names"}, "mark": {"type": "text", "align": "left", "baseline": "middle", "font": "Open Sans", "fontSize": 17.5, "fontWeight": 600, "color": "black"},
 "encoding": {"text": {"field": "txt", "type": "nominal"}}},
{"data": {"name": "a_peaks"}, "mark": {"type": "text", "align": "center", "baseline": "middle", "font": "Open Sans", "fontSize": 19.5, "fontWeight": "bold", "color": "black"},
 "encoding": {"text": {"field": "txt", "type": "nominal"}}},
{"data": {"name": "a_letter"}, "mark": {"type": "text", "align": "left", "baseline": "alphabetic", "font": "Open Sans", "fontSize": 57, "fontWeight": "bold", "color": "black", "clip": false},
 "encoding": {"text": {"field": "txt", "type": "nominal"}}},
{"data": {"name": "zoom"}, "mark": {"type": "line", "color": "#C00000", "strokeWidth": 4.5, "strokeDash": [24, 12], "clip": false},
 "encoding": {"detail": {"field": "seg", "type": "nominal"}, "order": {"field": "k", "type": "quantitative"}}}
]
},
{
"width": 911, "height": 682,
"encoding": {
"x": {"field": "wn", "type": "quantitative",
 "scale": {"domain": [1200, 1800], "reverse": true, "nice": false, "zero": false},
 "axis": {"title": "Nombre d'onde (cm⁻¹)", "values": [1800,1750,1700,1650,1600,1550,1500,1450,1400,1350,1300,1250,1200], "format": "d",
  "labelExpr": "datum.value % 100 === 0 ? datum.label : ''",
  "tickSize": {"condition": {"test": "datum.value % 100 === 0", "value": 13}, "value": 8},
  "tickWidth": 2, "tickColor": "black", "domainColor": "black", "domainWidth": 3, "grid": false,
  "labelFont": "Open Sans", "labelFontSize": 32, "labelColor": "black", "labelPadding": 11, "labelFlush": false, "labelOverlap": false,
  "titleFont": "Open Sans", "titleFontSize": 37, "titleFontWeight": "bold", "titleColor": "black", "titleY": 115, "titleBaseline": "alphabetic", "titleLimit": 2000}},
"y": {"field": "t", "type": "quantitative",
 "scale": {"domain": [0, 100], "nice": false, "zero": false},
 "axis": {"title": "Transmittance", "labels": false, "ticks": false, "domain": false, "grid": false,
  "titleFont": "Open Sans", "titleFontSize": 35, "titleFontWeight": "bold", "titleColor": "black", "titleAngle": -90, "titleX": -57, "titleY": 372, "titleBaseline": "alphabetic", "titleAlign": "center", "titleLimit": 2000}}
},
"layer": [
{"data": {"name": "b_ref"}, "mark": {"type": "rule", "color": "#c8c8c8", "strokeWidth": 1.5},
 "encoding": {"y2": {"field": "t2"}}},
{"data": {"name": "b_spec"}, "transform": [{"filter": "datum.spectre === 'Résine esun3D-PMHS avant impression'"}],
 "mark": {"type": "line", "strokeWidth": 2.8, "interpolate": "monotone"},
 "encoding": {"color": {"field": "spectre", "type": "nominal",
  "scale": {"domain": ["Résine esun3D-PMHS avant impression", "Résine esun3D-PMHS après impression"], "range": ["#0000FF", "#008000"]},
  "legend": {"orient": "none", "legendX": 53, "legendY": 15, "direction": "horizontal", "columns": 2, "title": null,
   "symbolType": "M-4,0H4", "symbolSize": 196, "symbolStrokeWidth": 3, "labelFont": "Open Sans", "labelFontSize": 19.4, "labelFontWeight": 600, "labelColor": "black",
   "labelLimit": 1000, "labelOffset": 21.5, "columnPadding": -6, "padding": 3, "fillColor": "white"}}}},
{"data": {"name": "b_spec"}, "transform": [{"filter": "datum.spectre === 'Résine esun3D-PMHS après impression'"}],
 "mark": {"type": "line", "strokeWidth": 2.8, "interpolate": "monotone"},
 "encoding": {"color": {"field": "spectre", "type": "nominal"}}},
{"data": {"name": "b_peaks"}, "mark": {"type": "text", "align": "center", "baseline": "middle", "font": "Open Sans", "fontSize": 20, "fontWeight": "bold", "color": "black"},
 "encoding": {"text": {"field": "txt", "type": "nominal"}}},
{"data": {"name": "b_letter"}, "mark": {"type": "text", "align": "left", "baseline": "alphabetic", "font": "Open Sans", "fontSize": 57, "fontWeight": "bold", "color": "black", "clip": false},
 "encoding": {"text": {"field": "txt", "type": "nominal"}}}
]
}
]
}
